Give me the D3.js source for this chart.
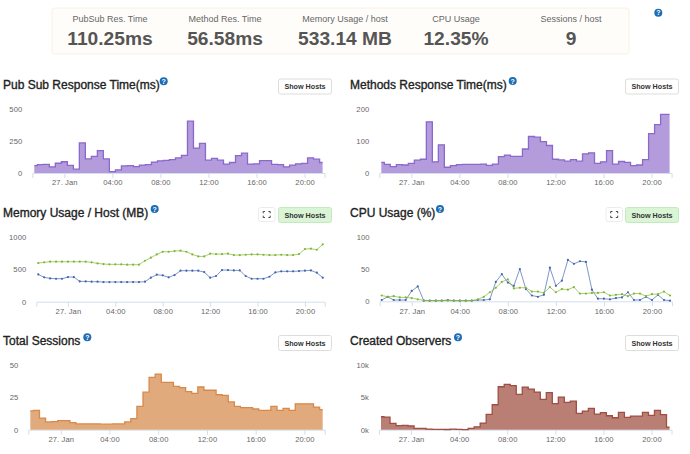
<!DOCTYPE html>
<html>
<head>
<meta charset="utf-8">
<script src="https://cdn.jsdelivr.net/npm/d3@7"></script>
<style>
  html, body { margin: 0; padding: 0; background: #fff; }
  svg { display: block; font-family: "Liberation Sans", Arial, sans-serif; }
  .tick text { fill: #666; font-size: 7.6px; letter-spacing: 0.1px; }
  .title { font-size: 12px; fill: #222; stroke: #222; stroke-width: 0.35px; }
  .btn-label { font-size: 7.2px; font-weight: bold; fill: #333; text-anchor: middle; }
</style>
</head>
<body>
<svg id="page" width="690" height="454"></svg>
<script>
// readings, half hour steps from 21:30 on 26 Jan to 21:30 on 27 Jan
const pubSubTime = [57, 66, 68, 48, 76, 88, 60, 30, 235, 110, 130, 175, 110, 10, 25, 55, 57, 50, 62, 65, 85, 95, 98, 105, 118, 138, 405, 195, 232, 100, 115, 100, 70, 82, 135, 155, 70, 72, 96, 96, 68, 65, 48, 62, 72, 75, 118, 108, 82];
const methodTime = [33, 27, 20, 26, 25, 30, 40, 43, 160, 35, 88, 18, 23, 26, 27, 27, 27, 28, 24, 28, 51, 56, 52, 52, 75, 114, 112, 98, 86, 43, 41, 37, 42, 37, 60, 63, 30, 35, 70, 28, 36, 33, 23, 25, 42, 123, 151, 183, 183];
const memoryGreen = [597, 608, 618, 618, 618, 618, 618, 618, 618, 608, 592, 582, 577, 577, 577, 572, 572, 572, 633, 680, 731, 772, 772, 783, 788, 772, 731, 700, 700, 742, 736, 736, 742, 721, 721, 726, 731, 731, 726, 721, 721, 726, 721, 721, 736, 814, 819, 803, 886];
const memoryBlue = [422, 376, 360, 355, 355, 381, 381, 314, 314, 309, 309, 304, 304, 304, 304, 304, 304, 304, 309, 371, 417, 407, 376, 412, 479, 479, 479, 479, 458, 371, 397, 489, 489, 484, 484, 397, 355, 355, 355, 386, 453, 469, 469, 469, 474, 479, 484, 448, 371];
const cpuBlue = [2, 7, 2, 2, 2, 16, 23, 1, 1, 1, 1, 2, 1, 1, 1, 1, 2, 2, 3, 30, 42, 29, 24, 50, 19, 9, 7, 10, 52, 24, 32, 64, 58, 62, 61, 18, 4, 4, 3, 5, 6, 14, 2, 2, 7, 2, 10, 2, 1];
const cpuGreen = [9, 7, 8, 6, 6, 5, 3, 1.5, 1, 1, 1, 1, 1, 1, 1, 1, 3, 7, 14, 21, 30, 34, 20, 21, 21, 15, 15, 13, 22, 14, 19, 18, 22, 12, 12, 13, 13, 14, 9, 10, 11, 8, 12, 12, 8, 11, 11, 15, 9];
const totalSessions = [14.5, 15, 9, 6, 6.3, 7, 7, 5.5, 4.5, 4.5, 4.5, 4.5, 4.3, 4.3, 4.5, 4.5, 6, 8.5, 18, 29, 40.5, 43, 36.5, 36.5, 33.5, 32.5, 29.5, 28, 33, 30.5, 30.5, 27, 26.5, 21.5, 18, 17, 17, 16, 15, 15, 18, 15, 16.5, 15, 20, 20, 20, 17.5, 15.5];
const createdObservers = [2000, 1950, 980, 620, 670, 570, 200, 200, 100, 60, 50, 30, 100, 50, 20, 200, 450, 1030, 2370, 3860, 6640, 7000, 6800, 5460, 6590, 6280, 5820, 4690, 5720, 4020, 5050, 4220, 4430, 2520, 2880, 3300, 2420, 2630, 2160, 1850, 2680, 1900, 2110, 2110, 2680, 2210, 2990, 2320, 410];

const summaryLabels = ['PubSub Res. Time', 'Method Res. Time', 'Memory Usage / host', 'CPU Usage', 'Sessions / host'];
const summaryValues = ['110.25ms', '56.58ms', '533.14 MB', '12.35%', '9'];
const summaryCenters = [110, 225, 345, 456, 571];

const startTime = new Date(2016, 0, 26, 21, 30);
const endTime = new Date(2016, 0, 27, 21, 30);
const hourTicks = [0, 4, 8, 12, 16, 20].map(h => new Date(2016, 0, 27, h));

const svg = d3.select('#page');

// --- top summary box ---
svg.append('rect')
    .attr('x', 52).attr('y', 8).attr('width', 577).attr('height', 46).attr('rx', 3)
    .attr('fill', '#fffdfa').attr('stroke', '#fbf0e4');

summaryLabels.forEach(function (label, i) {
    svg.append('text').attr('x', summaryCenters[i]).attr('y', 22)
        .attr('text-anchor', 'middle').attr('font-size', 9).attr('fill', '#666').text(label);
    svg.append('text').attr('x', summaryCenters[i]).attr('y', 44.5)
        .attr('text-anchor', 'middle').attr('font-size', 19.2).attr('font-weight', 'bold').attr('fill', '#555').text(summaryValues[i]);
});

function helpIcon(cx, cy) {
    svg.append('circle').attr('cx', cx).attr('cy', cy).attr('r', 4).attr('fill', '#1c6cb4');
    svg.append('text').attr('x', cx).attr('y', cy + 2.5).attr('text-anchor', 'middle')
        .attr('font-size', 7).attr('font-weight', 'bold').attr('fill', '#fff').text('?');
}

helpIcon(658.3, 12.7);

function button(x, y, w, h, green) {
    svg.append('rect').attr('x', x + 0.5).attr('y', y + 0.5).attr('width', w).attr('height', h).attr('rx', 2)
        .attr('fill', green ? '#daf4d6' : '#fff').attr('stroke', green ? '#c6e8c1' : '#ddd');
    svg.append('text').attr('class', 'btn-label').attr('x', x + w / 2 + 0.5).attr('y', y + h / 2 + 3).text('Show Hosts');
}

function expandIcon(x, y) {
    svg.append('rect').attr('x', x + 0.5).attr('y', y + 0.5).attr('width', 16.5).attr('height', 14).attr('rx', 2)
        .attr('fill', '#fff').attr('stroke', '#ececec');
    const cx = x + 8.7, cy = y + 7.5;
    [[-1, -1], [1, -1], [-1, 1], [1, 1]].forEach(function (d) {
        svg.append('path')
            .attr('d', 'M' + (cx + d[0] * 3.5) + ',' + (cy + d[1] * 1.2) + 'V' + (cy + d[1] * 3) + 'H' + (cx + d[0] * 1.7))
            .attr('fill', 'none').attr('stroke', '#333').attr('stroke-width', 0.9);
    });
}

function drawAxes(panel) {
    const x = d3.scaleTime()
        .domain([d3.timeMinute.offset(startTime, -10), d3.timeMinute.offset(endTime, 10)])
        .range([panel.left, panel.right]);
    const y = d3.scaleLinear().domain([0, panel.max]).range([panel.base, panel.top]);

    const xAxis = d3.axisBottom(x).tickValues(hourTicks).tickSizeOuter(0).tickSize(5).tickPadding(2)
        .tickFormat(d => d.getHours() === 0 ? '27. Jan' : d3.timeFormat('%H:%M')(d));
    const gx = svg.append('g').attr('transform', 'translate(0,' + panel.base + ')').call(xAxis);
    gx.select('.domain').attr('stroke', '#d3deee');
    gx.selectAll('.tick line').attr('stroke', '#d3deee');

    const yAxis = d3.axisLeft(y).tickValues(panel.ticks).tickSize(0).tickPadding(10)
        .tickFormat(panel.format || (d => d));
    const gy = svg.append('g').attr('transform', 'translate(' + panel.left + ',0)').call(yAxis);
    gy.select('.domain').remove();
    return { x, y };
}

function stepArea(panel, values, fill, stroke) {
    const s = drawAxes(panel);
    const when = i => d3.timeMinute.offset(startTime, i * 30);
    const area = d3.area().curve(d3.curveStep)
        .x((d, i) => s.x(when(i))).y0(panel.base).y1(d => s.y(d));
    const line = d3.line().curve(d3.curveStep)
        .x((d, i) => s.x(when(i))).y(d => s.y(d));
    svg.append('path').attr('d', area(values)).attr('fill', fill);
    svg.append('path').attr('d', line(values)).attr('fill', 'none').attr('stroke', stroke).attr('stroke-width', 1.3);
}

function markerLines(panel, seriesList) {
    const s = drawAxes(panel);
    const when = i => d3.timeMinute.offset(startTime, i * 30);
    seriesList.forEach(function (series) {
        const line = d3.line().x((d, i) => s.x(when(i))).y(d => s.y(d));
        svg.append('path').attr('d', line(series.values)).attr('fill', 'none')
            .attr('stroke', series.color).attr('stroke-width', 0.8).attr('stroke-opacity', 0.85);
        svg.append('g').selectAll('circle').data(series.values).enter().append('circle')
            .attr('cx', (d, i) => s.x(when(i))).attr('cy', d => s.y(d)).attr('r', 1.1).attr('fill', series.color);
    });
}

function title(x, y, text) {
    svg.append('text').attr('class', 'title').attr('x', x).attr('y', y).text(text);
}

const kFormat = d => (d / 1000) + 'k';

// --- row 1 ---
title(3, 89, 'Pub Sub Response Time(ms)');
helpIcon(163.7, 81.3);
button(278, 78.5, 53, 15);
stepArea({ left: 32.3, right: 324.6, base: 173, top: 109, max: 500, ticks: [0, 250, 500] }, pubSubTime, '#b39bdc', '#8a68cc');

title(350, 89, 'Methods Response Time(ms)');
helpIcon(512.7, 81);
button(625, 78.5, 53, 15);
stepArea({ left: 379.3, right: 671.6, base: 173, top: 109, max: 200, ticks: [0, 100, 200] }, methodTime, '#b39bdc', '#8a68cc');

// --- row 2 ---
title(3, 217, 'Memory Usage / Host (MB)');
helpIcon(154.7, 209);
expandIcon(258, 207);
button(278, 207, 53, 15, true);
markerLines({ left: 36.3, right: 324.7, base: 301.7, top: 237, max: 1000, ticks: [0, 500, 1000] },
    [{ values: memoryGreen, color: '#7fb62f' }, { values: memoryBlue, color: '#4063ae' }]);

title(350, 217, 'CPU Usage (%)');
helpIcon(440, 209);
expandIcon(605.5, 207);
button(625, 207, 53, 15, true);
markerLines({ left: 379.7, right: 672, base: 301.3, top: 236.7, max: 100, ticks: [0, 50, 100] },
    [{ values: cpuBlue, color: '#4063ae' }, { values: cpuGreen, color: '#7fb62f' }]);

// --- row 3 ---
title(3, 345, 'Total Sessions');
helpIcon(87.3, 337.3);
button(278, 335, 53, 15);
stepArea({ left: 28.3, right: 324.7, base: 429.7, top: 365, max: 50, ticks: [0, 25, 50] }, totalSessions, '#e0aa7c', '#d8894a');

title(350, 345, 'Created Observers');
helpIcon(458, 337.3);
button(625, 335, 53, 15);
stepArea({ left: 379, right: 671.5, base: 429.7, top: 365, max: 10000, ticks: [0, 5000, 10000], format: kFormat }, createdObservers, '#b97f74', '#a04d43');
</script>
</body>
</html>
